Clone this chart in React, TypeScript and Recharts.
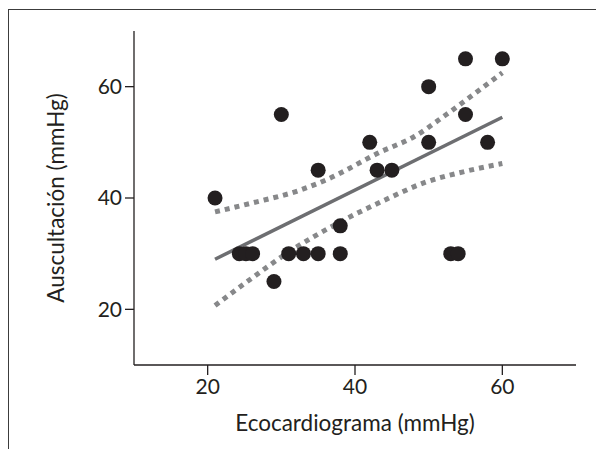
import React from "react";
import { ComposedChart, XAxis, YAxis, Scatter, Line } from "recharts";

// Ecocardiograma (x) vs Auscultación (y), mmHg
const points = [
    { x: 21, y: 40 },
    { x: 24.3, y: 30 },
    { x: 25.2, y: 30 },
    { x: 26.1, y: 30 },
    { x: 29, y: 25 },
    { x: 30, y: 55 },
    { x: 31, y: 30 },
    { x: 33, y: 30 },
    { x: 35, y: 30 },
    { x: 35, y: 45 },
    { x: 38, y: 30 },
    { x: 38, y: 35 },
    { x: 42, y: 50 },
    { x: 43, y: 45 },
    { x: 45, y: 45 },
    { x: 50, y: 60 },
    { x: 50, y: 50 },
    { x: 53, y: 30 },
    { x: 54, y: 30 },
    { x: 55, y: 65 },
    { x: 55, y: 55 },
    { x: 58, y: 50 },
    { x: 60, y: 65 },
];

const regression = [
    { x: 21, y: 29 },
    { x: 60, y: 54.5 },
];

const upperBand = [
    { x: 21, y: 37.5 },
    { x: 26, y: 39.1 },
    { x: 32.5, y: 41.4 },
    { x: 36, y: 43.2 },
    { x: 43.5, y: 48.3 },
    { x: 48, y: 51 },
    { x: 52.4, y: 55 },
    { x: 57, y: 59.5 },
    { x: 60, y: 62.5 },
];

const lowerBand = [
    { x: 21, y: 20.7 },
    { x: 26, y: 25.6 },
    { x: 31, y: 30.3 },
    { x: 38, y: 35.7 },
    { x: 44, y: 39.6 },
    { x: 49.5, y: 42.8 },
    { x: 54.7, y: 44.7 },
    { x: 60, y: 46.2 },
];

const xTicks = [20, 40, 60];
const yTicks = [20, 40, 60];

const FONT = "Lato, 'Open Sans', sans-serif";
const INK = "#231f20";

export default function App() {
    const tickStyle = { fontSize: 21, fill: INK, fontFamily: FONT };
    return (
        <div style={{ position: "relative", width: 596, height: 441 }}>
            <div
                style={{
                    position: "absolute",
                    left: 0,
                    top: 1,
                    width: 596,
                    height: 440,
                    borderTop: "1.5px solid #3c3c3c",
                    borderLeft: "1.5px solid #3c3c3c",
                    boxSizing: "border-box",
                }}
            />
            <ComposedChart
                width={596}
                height={441}
                margin={{ top: 23, right: 28, bottom: 24, left: 0 }}
                style={{ position: "absolute", left: 0, top: 0 }}
            >
                <XAxis
                    type="number"
                    dataKey="x"
                    domain={[10, 70]}
                    ticks={xTicks}
                    height={60}
                    tickSize={10}
                    tickMargin={4}
                    stroke={INK}
                    strokeWidth={1.3}
                    tick={tickStyle}
                    allowDataOverflow
                    label={{
                        content: ({ viewBox }: any) => (
                            <text
                                x={viewBox.x + viewBox.width / 2}
                                y={viewBox.y + 66}
                                textAnchor="middle"
                                fontSize={22.5}
                                fontFamily={FONT}
                                fill={INK}
                            >
                                Ecocardiograma (mmHg)
                            </text>
                        ),
                    }}
                />
                <YAxis
                    type="number"
                    dataKey="y"
                    domain={[10, 70]}
                    ticks={yTicks}
                    width={126}
                    tickSize={9}
                    tickMargin={3}
                    stroke={INK}
                    strokeWidth={1.3}
                    tick={tickStyle}
                    allowDataOverflow
                    label={{
                        content: ({ viewBox }: any) => {
                            const cx = 56;
                            const cy = viewBox.y + viewBox.height / 2;
                            return (
                                <text
                                    x={cx}
                                    y={cy}
                                    transform={`rotate(-90 ${cx} ${cy})`}
                                    textAnchor="middle"
                                    fontSize={22.5}
                                    fontFamily={FONT}
                                    fill={INK}
                                >
                                    Auscultación (mmHg)
                                </text>
                            );
                        },
                    }}
                />
                <Scatter data={points} fill={INK} isAnimationActive={false} shape={(p: any) => <circle cx={p.cx} cy={p.cy} r={7.5} fill={INK} />} />
                <Line
                    data={upperBand}
                    dataKey="y"
                    type="monotone"
                    stroke="#87888a"
                    strokeWidth={5}
                    strokeDasharray="5 5"
                    dot={false}
                    activeDot={false}
                    isAnimationActive={false}
                />
                <Line
                    data={lowerBand}
                    dataKey="y"
                    type="monotone"
                    stroke="#87888a"
                    strokeWidth={5}
                    strokeDasharray="5 5"
                    dot={false}
                    activeDot={false}
                    isAnimationActive={false}
                />
                <Line
                    data={regression}
                    dataKey="y"
                    type="linear"
                    stroke="#6d6e71"
                    strokeWidth={3.5}
                    dot={false}
                    activeDot={false}
                    isAnimationActive={false}
                />
            </ComposedChart>
        </div>
    );
}
